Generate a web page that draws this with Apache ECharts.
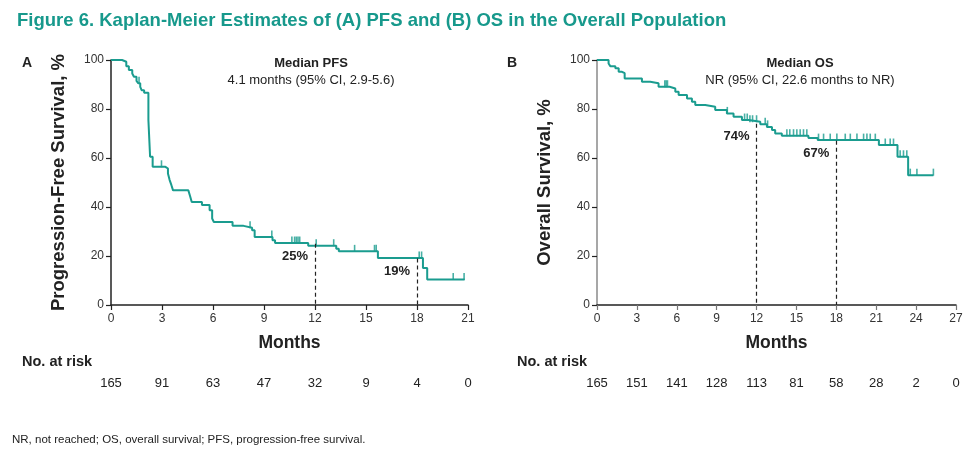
<!DOCTYPE html>
<html>
<head>
<meta charset="utf-8">
<script src="https://cdn.jsdelivr.net/npm/echarts@6/dist/echarts.min.js"></script>
<style>
  html, body { margin: 0; padding: 0; background: #fff; }
  #main { width: 974px; height: 452px; }
</style>
</head>
<body>
<div id="main"></div>
<script>
// PFS curve (months, % after the step)
const pfsMonths = [0, 0.65, 0.9, 1.05, 1.25, 1.35, 1.5, 1.6, 1.72, 1.8, 1.95, 2.2, 2.3, 2.45, 3.2, 3.35, 3.45, 3.55, 3.65, 4.55, 4.65, 4.75, 5.35, 5.8, 5.95, 6.05, 7.15, 7.8, 8.3, 8.45, 9.5, 9.65, 11.6, 13.25, 13.4, 15.7, 18.35, 18.6, 20.8];
const pfsSurv = [100, 99.3, 97.5, 95.9, 94.5, 93.2, 91.5, 90.5, 89, 87.7, 86.6, 75.5, 60.5, 56.4, 55.7, 53.7, 51, 49, 46.8, 46, 44.5, 42, 40.8, 38.7, 35.3, 33.9, 32.3, 31.5, 30.5, 27.8, 26.4, 25.3, 24.2, 23, 21.9, 19.2, 15.1, 10.4, 10.4];
const pfsCensored = [1.65, 2.97, 8.18, 9.46, 10.64, 10.8, 10.9, 11.0, 11.1, 12.07, 13.1, 14.33, 15.5, 15.6, 18.13, 18.27, 20.13, 20.77];

// OS curve
const osMonths = [0, 0.87, 1.0, 1.38, 1.63, 1.88, 2.08, 3.38, 4.0, 4.63, 5.46, 5.89, 6.14, 6.77, 7.14, 7.39, 8.14, 8.89, 9.77, 10.27, 10.9, 11.4, 12.28, 12.78, 13.16, 13.4, 13.9, 15.9, 16.6, 21.2, 22.6, 23.4, 25.3];
const osSurv = [100, 98.6, 97.5, 96.6, 95.2, 94.6, 92.5, 91.1, 90.5, 89.1, 88.4, 87.0, 85.7, 84.3, 83.0, 81.6, 80.9, 79.6, 78.2, 76.8, 75.5, 74.8, 73.8, 72.7, 71.4, 70.0, 69.1, 68.2, 67.3, 65.3, 60.5, 53.0, 53.0];
const osCensored = [5.1, 5.2, 5.3, 9.8, 11.1, 11.3, 11.5, 11.7, 12.0, 12.65, 12.83, 14.28, 14.5, 14.78, 15.03, 15.28, 15.53, 15.78, 16.66, 17.04, 17.54, 18.04, 18.67, 19.05, 19.55, 20.05, 20.3, 20.55, 20.93, 21.68, 22.05, 22.3, 22.8, 23.05, 23.3, 23.56, 24.06, 25.3];

// landmarks
const pfsLandmarkMonths = [12, 18];
const pfsLandmarkPct = [25, 19];
const osLandmarkMonths = [12, 18];
const osLandmarkPct = [74, 67];

// number at risk, one per 3-month tick
const riskA = [165, 91, 63, 47, 32, 9, 4, 0];
const riskB = [165, 151, 141, 128, 113, 81, 58, 28, 2, 0];

const teal = '#1a9c8f';
const ink = '#222';
const narrow = "'Liberation Sans Narrow', 'Liberation Sans', Arial, sans-serif";
const sans = "'Liberation Sans', Arial, sans-serif";

function survAt(months, surv, t) {
  let s = surv[0];
  for (let i = 0; i < months.length; i++) {
    if (months[i] <= t) s = surv[i];
  }
  return s;
}

function zip(xs, ys) {
  return xs.map((x, i) => [x, ys[i]]);
}

function landmarkLines(months, pct) {
  return months.map((m, i) => [{ coord: [m, pct[i]] }, { coord: [m, 0] }]);
}

function landmarkLabels(months, pct) {
  return months.map((m, i) => ({ coord: [m, pct[i]], value: pct[i] + '%' }));
}

function mainX(gridIndex, max) {
  return {
    type: 'value', gridIndex: gridIndex, min: 0, max: max, interval: 3,
    name: 'Months', nameLocation: 'middle', nameGap: 29,
    nameTextStyle: { fontFamily: sans, fontWeight: 'bold', fontSize: 17.5, color: ink },
    axisLine: { show: true, onZero: false, lineStyle: { color: ink, width: 1.5 } },
    axisTick: { show: true, length: 5, lineStyle: { color: gridIndex ? '#777' : ink, width: 1.2 } },
    axisLabel: { fontFamily: sans, fontSize: 12, color: '#333', margin: 8 },
    splitLine: { show: false }
  };
}

function riskX(gridIndex, max, risk) {
  return {
    type: 'value', gridIndex: gridIndex, min: 0, max: max, interval: 3,
    position: 'bottom', offset: 64,
    axisLine: { show: false }, axisTick: { show: false }, splitLine: { show: false },
    axisLabel: {
      fontFamily: narrow, fontSize: 13, color: '#222', margin: 8,
      formatter: v => risk[Math.round(v / 3)]
    }
  };
}

function mainY(gridIndex, name, axisColor) {
  return {
    type: 'value', gridIndex: gridIndex, min: 0, max: 100, interval: 20,
    name: name, nameLocation: 'middle', nameGap: 43,
    nameTextStyle: { fontFamily: sans, fontWeight: 'bold', fontSize: 18.5, color: ink },
    axisLine: { show: true, onZero: false, lineStyle: { color: axisColor, width: 1.5 } },
    axisTick: { show: true, length: 5, lineStyle: { color: ink, width: 1.2 } },
    axisLabel: { fontFamily: sans, fontSize: 12, color: '#333', margin: 7 },
    splitLine: { show: false }
  };
}

function curve(xi, yi, months, surv, censored, lmMonths, lmPct) {
  return [
    {
      type: 'line', xAxisIndex: xi, yAxisIndex: yi, step: 'end',
      symbol: 'none', data: zip(months, surv), animation: false,
      lineStyle: { color: teal, width: 2 },
      markLine: {
        silent: true, symbol: ['none', 'none'], animation: false,
        label: { show: false },
        lineStyle: { type: [4, 3], color: ink, width: 1.2 },
        data: landmarkLines(lmMonths, lmPct)
      },
      markPoint: {
        silent: true, symbol: 'circle', symbolSize: 0, animation: false,
        label: {
          show: true, formatter: p => p.data.value, offset: [-20, 12.5],
          fontFamily: sans, fontWeight: 'bold', fontSize: 13, color: ink
        },
        data: landmarkLabels(lmMonths, lmPct)
      }
    },
    {
      type: 'scatter', xAxisIndex: xi, yAxisIndex: yi, animation: false,
      symbol: 'rect', symbolSize: [1.6, 7], symbolOffset: [0, -3],
      itemStyle: { color: teal },
      data: censored.map(t => [t, survAt(months, surv, t)])
    }
  ];
}

let chart = echarts.init(document.getElementById('main'), null, { renderer: 'canvas' });

let option = {
  backgroundColor: '#fff',
  animation: false,
  grid: [
    { left: 111, right: 506, top: 60, bottom: 147, outerBoundsMode: 'none', containLabel: false },
    { left: 597, right: 18, top: 60, bottom: 147, outerBoundsMode: 'none', containLabel: false }
  ],
  xAxis: [
    mainX(0, 21),
    riskX(0, 21, riskA),
    mainX(1, 27),
    riskX(1, 27, riskB)
  ],
  yAxis: [
    mainY(0, 'Progression-Free Survival, %', ink),
    mainY(1, 'Overall Survival, %', '#8a8a8a')
  ],
  series: [].concat(
    curve(0, 0, pfsMonths, pfsSurv, pfsCensored, pfsLandmarkMonths, pfsLandmarkPct),
    curve(2, 1, osMonths, osSurv, osCensored, osLandmarkMonths, osLandmarkPct)
  ),
  graphic: [
    { type: 'text', left: 17, top: 11, style: { text: 'Figure 6. Kaplan-Meier Estimates of (A) PFS and (B) OS in the Overall Population', font: 'bold 18.5px ' + sans, fill: '#17998c' } },
    { type: 'text', left: 22, top: 56, style: { text: 'A', font: 'bold 14px ' + sans, fill: ink } },
    { type: 'text', left: 507, top: 56, style: { text: 'B', font: 'bold 14px ' + sans, fill: ink } },
    { type: 'text', x: 311, y: 57, style: { text: 'Median PFS', font: 'bold 13px ' + sans, fill: ink, align: 'center' } },
    { type: 'text', x: 311, y: 74, style: { text: '4.1 months (95% CI, 2.9-5.6)', font: '13px ' + sans, fill: ink, align: 'center' } },
    { type: 'text', x: 800, y: 57, style: { text: 'Median OS', font: 'bold 13px ' + sans, fill: ink, align: 'center' } },
    { type: 'text', x: 800, y: 74, style: { text: 'NR (95% CI, 22.6 months to NR)', font: '13px ' + sans, fill: ink, align: 'center' } },
    { type: 'text', left: 22, top: 354, style: { text: 'No. at risk', font: 'bold 14.5px ' + narrow, fill: ink } },
    { type: 'text', left: 517, top: 354, style: { text: 'No. at risk', font: 'bold 14.5px ' + narrow, fill: ink } },
    { type: 'text', left: 12, top: 434, style: { text: 'NR, not reached; OS, overall survival; PFS, progression-free survival.', font: '11.5px ' + narrow, fill: ink } }
  ]
};

chart.setOption(option);
</script>
</body>
</html>
